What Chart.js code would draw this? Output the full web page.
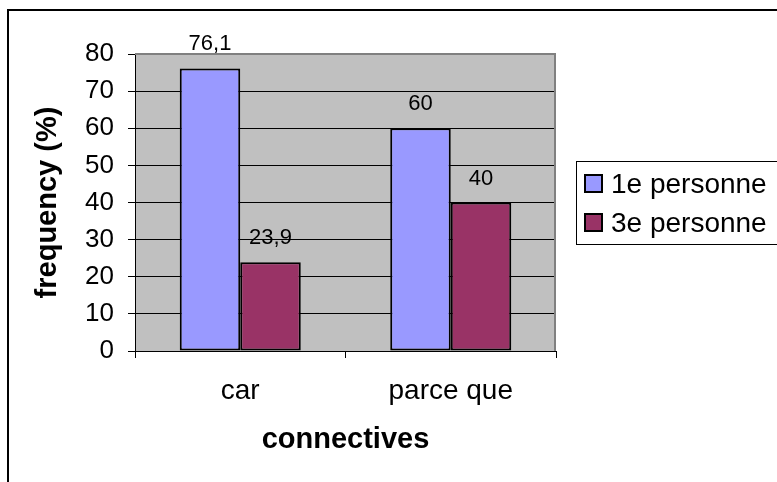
<!DOCTYPE html>
<html>
<head>
<meta charset="utf-8">
<script src="https://cdn.jsdelivr.net/npm/chart.js@4/dist/chart.umd.min.js"></script>
<style>
  html, body { margin: 0; padding: 0; background: #fff; }
  #wrap { width: 777px; height: 482px; }
</style>
</head>
<body>
<div id="wrap"><canvas id="c" width="777" height="482"></canvas></div>
<script>
// Connective categories and frequency (%) per person form
const categories = ['car', 'parce que'];
const seriesNames = ['1e personne', '3e personne'];
const firstPerson = [76.1, 60];
const thirdPerson = [23.9, 40];
const yTicks = [0, 10, 20, 30, 40, 50, 60, 70, 80];

const FONT = "'Liberation Sans', Arial, sans-serif";
const colors = ['#9999FF', '#993366'];

// Grey plot background plus grey frame on top and right
const plotArea = {
  id: 'plotArea',
  beforeDraw(chart) {
    const { ctx, chartArea: a } = chart;
    ctx.save();
    ctx.fillStyle = '#C0C0C0';
    ctx.fillRect(a.left, a.top, a.right - a.left, a.bottom - a.top);
    ctx.restore();
  },
  beforeDatasetsDraw(chart) {
    const { ctx, chartArea: a } = chart;
    ctx.save();
    ctx.strokeStyle = '#808080';
    ctx.lineWidth = 2;
    ctx.beginPath();
    ctx.moveTo(a.left, a.top);
    ctx.lineTo(a.right - 1, a.top);
    ctx.lineTo(a.right - 1, a.bottom);
    ctx.stroke();
    ctx.restore();
  },
  afterDraw(chart) {
    // outer chart frame
    const { ctx } = chart;
    ctx.save();
    ctx.strokeStyle = '#000';
    ctx.lineWidth = 2;
    ctx.strokeRect(8, 10, 900, 600);
    ctx.restore();
  }
};

// Value labels above each bar, decimal comma
const valueLabels = {
  id: 'valueLabels',
  afterDatasetsDraw(chart) {
    const { ctx } = chart;
    ctx.save();
    ctx.font = '22px ' + FONT;
    ctx.fillStyle = '#000';
    ctx.textAlign = 'center';
    ctx.textBaseline = 'alphabetic';
    chart.data.datasets.forEach((ds, i) => {
      chart.getDatasetMeta(i).data.forEach((bar, j) => {
        const txt = String(ds.data[j]).replace('.', ',');
        ctx.fillText(txt, bar.x, bar.y - 18);
      });
    });
    ctx.restore();
  }
};

// Boxed legend at the right
const boxLegend = {
  id: 'boxLegend',
  afterDraw(chart) {
    const { ctx } = chart;
    ctx.save();
    ctx.strokeStyle = '#000';
    ctx.lineWidth = 1;
    ctx.strokeRect(576.5, 161.5, 400, 83);
    ctx.font = '28px ' + FONT;
    ctx.textBaseline = 'alphabetic';
    ctx.textAlign = 'left';
    chart.data.datasets.forEach((ds, i) => {
      const top = 175 + i * 39;
      ctx.fillStyle = ds.backgroundColor;
      ctx.fillRect(585, top, 17, 17);
      ctx.lineWidth = 2;
      ctx.strokeStyle = '#000';
      ctx.strokeRect(585, top, 17, 17);
      ctx.fillStyle = '#000';
      ctx.fillText(ds.label, 611, top + 18);
    });
    ctx.restore();
  }
};

new Chart(document.getElementById('c'), {
  type: 'bar',
  data: {
    labels: categories,
    datasets: [
      { label: seriesNames[0], data: firstPerson, backgroundColor: colors[0] },
      { label: seriesNames[1], data: thirdPerson, backgroundColor: colors[1] }
    ]
  },
  options: {
    responsive: false,
    animation: false,
    devicePixelRatio: 1,
    layout: { padding: { left: 0, top: 54, right: 221, bottom: 0 } },
    datasets: {
      bar: {
        categoryPercentage: 0.575,
        barPercentage: 1,
        borderColor: '#000',
        borderWidth: 2,
        borderSkipped: false
      }
    },
    plugins: {
      legend: { display: false },
      tooltip: { enabled: false }
    },
    scales: {
      x: {
        afterFit(s) { s.height = 131; },
        grid: { offset: true, drawOnChartArea: false, color: '#000', tickLength: 7 },
        border: { color: '#000', width: 1 },
        ticks: { color: '#000', font: { family: FONT, size: 28 }, padding: 16 },
        title: {
          display: true, text: 'connectives', color: '#000',
          font: { family: FONT, size: 29, weight: 'bold' },
          padding: { top: 0, bottom: 25 }
        }
      },
      y: {
        min: 0, max: 80,
        afterFit(s) { s.width = 135; },
        afterBuildTicks(s) { s.ticks = yTicks.map(v => ({ value: v })); },
        grid: { color: '#000', lineWidth: 1, tickLength: 7 },
        border: { color: '#000', width: 1 },
        ticks: { color: '#000', font: { family: FONT, size: 26 }, padding: 14 },
        title: {
          display: true, text: 'frequency (%)', color: '#000',
          font: { family: FONT, size: 29, weight: 'bold' },
          padding: { top: 31, bottom: 0 }
        }
      }
    }
  },
  plugins: [plotArea, valueLabels, boxLegend]
});
</script>
</body>
</html>
